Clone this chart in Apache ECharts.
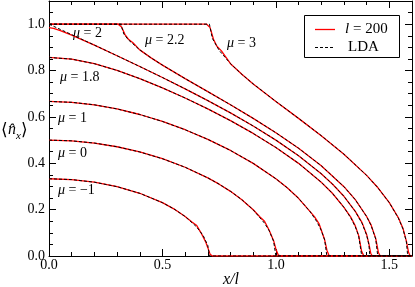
<!DOCTYPE html>
<html><head><meta charset="utf-8">
<script src="https://cdn.jsdelivr.net/npm/echarts@6/dist/echarts.min.js"></script>
<style>html,body{margin:0;padding:0;background:#fff}#c{width:415px;height:287px}</style>
</head><body><div id="c"></div>
<script>
// ---- data (x/l, <n_x>) ----
const muNames = ['−1', '0', '1', '1.8', '2', '2.2', '3'];
const legendNames = ['l = 200', 'LDA'];

const lda_m1 = [[0,0.3333],[0.1,0.3296],[0.2,0.3184],[0.3,0.2991],[0.4,0.2706],[0.5,0.2300],[0.55,0.2035],[0.6,0.1704],[0.65,0.1262],[0.68,0.0875],[0.7,0.0451],[0.7071,0],[1.6,0]];
const lda_0 = [[0,0.5],[0.1,0.4968],[0.2,0.4873],[0.3,0.4713],[0.4,0.4488],[0.5,0.4196],[0.6,0.3828],[0.7,0.3370],[0.75,0.3098],[0.8,0.2789],[0.85,0.2430],[0.9,0.1994],[0.95,0.1416],[0.97,0.1099],[0.99,0.0636],[1.0,0],[1.6,0]];
const lda_1 = [[0,0.6667],[0.1,0.6630],[0.2,0.6522],[0.3,0.6344],[0.4,0.6104],[0.5,0.5804],[0.6,0.5447],[0.7,0.5032],[0.8,0.4553],[0.9,0.3997],[1.0,0.3333],[1.05,0.2942],[1.1,0.2487],[1.15,0.1925],[1.18,0.1490],[1.2,0.1108],[1.215,0.0695],[1.2247,0],[1.6,0]];
const lda_18 = [[0,0.8564],[0.1,0.8493],[0.2,0.8296],[0.3,0.8006],[0.4,0.7652],[0.5,0.7252],[0.6,0.6816],[0.7,0.6344],[0.8,0.5837],[0.9,0.5287],[1.0,0.4681],[1.1,0.3997],[1.2,0.3184],[1.25,0.2695],[1.3,0.2101],[1.33,0.1649],[1.35,0.1262],[1.365,0.0866],[1.3784,0],[1.6,0]];
const lda_2 = [[0,1.0],[0.02,0.991],[0.05,0.9775],[0.1,0.9549],[0.2,0.9097],[0.3,0.8639],[0.4,0.8174],[0.5,0.7699],[0.6,0.7211],[0.7,0.6703],[0.8,0.6172],[0.9,0.5608],[1.0,0.5],[1.1,0.4327],[1.2,0.3550],[1.25,0.3098],[1.3,0.2576],[1.35,0.1925],[1.38,0.1403],[1.4,0.0903],[1.41,0.0492],[1.4142,0],[1.6,0]];
const lda_22 = [[0,1],[0.3162,1],[0.33,0.9575],[0.35,0.9323],[0.4,0.8892],[0.45,0.8546],[0.5,0.8234],[0.6,0.7652],[0.7,0.7088],[0.8,0.6522],[0.9,0.5937],[1.0,0.5319],[1.1,0.4649],[1.2,0.3896],[1.3,0.2991],[1.35,0.2430],[1.4,0.1704],[1.42,0.1311],[1.44,0.0733],[1.4491,0],[1.6,0]];
const lda_3 = [[0,1],[0.7071,1],[0.72,0.9389],[0.75,0.8869],[0.8,0.8296],[0.85,0.7836],[0.9,0.7424],[1.0,0.6667],[1.1,0.5937],[1.2,0.5191],[1.3,0.4392],[1.4,0.3478],[1.45,0.2942],[1.5,0.2300],[1.54,0.1632],[1.56,0.1168],[1.575,0.0628],[1.5811,0],[1.6,0]];

const l200_m1 = [[0,0.3333],[0.1,0.3296],[0.2,0.3184],[0.3,0.2991],[0.4,0.2706],[0.5,0.2300],[0.55,0.2035],[0.6,0.1704],[0.63,0.147],[0.65,0.133],[0.67,0.100],[0.69,0.062],[0.70,0.036],[0.71,0.008],[0.72,0],[1.6,0]];
const l200_0 = [[0,0.5],[0.1,0.4968],[0.2,0.4873],[0.3,0.4713],[0.4,0.4488],[0.5,0.4196],[0.6,0.3828],[0.7,0.3370],[0.75,0.3098],[0.8,0.2789],[0.85,0.2430],[0.9,0.1994],[0.93,0.168],[0.95,0.150],[0.97,0.112],[0.99,0.066],[1.0,0.030],[1.01,0.005],[1.02,0],[1.6,0]];
const l200_1 = [[0,0.6667],[0.1,0.6630],[0.2,0.6522],[0.3,0.6344],[0.4,0.6104],[0.5,0.5804],[0.6,0.5447],[0.7,0.5032],[0.8,0.4553],[0.9,0.3997],[1.0,0.3333],[1.05,0.2942],[1.1,0.2487],[1.15,0.1925],[1.17,0.170],[1.19,0.140],[1.2,0.112],[1.215,0.070],[1.225,0.025],[1.235,0],[1.6,0]];
const l200_18 = [[0,0.8564],[0.1,0.8493],[0.2,0.8296],[0.3,0.8006],[0.4,0.7652],[0.5,0.7252],[0.6,0.6816],[0.7,0.6344],[0.8,0.5837],[0.9,0.5287],[1.0,0.4681],[1.1,0.3997],[1.2,0.3184],[1.25,0.2695],[1.3,0.2101],[1.33,0.1680],[1.35,0.1300],[1.365,0.0880],[1.378,0.020],[1.388,0],[1.6,0]];
const l200_2 = [[0,0.985],[0.02,0.982],[0.05,0.972],[0.1,0.9530],[0.2,0.9097],[0.3,0.8639],[0.4,0.8174],[0.5,0.7699],[0.6,0.7211],[0.7,0.6703],[0.8,0.6172],[0.9,0.5608],[1.0,0.5],[1.1,0.4327],[1.2,0.3550],[1.25,0.3098],[1.3,0.2576],[1.35,0.1925],[1.38,0.1440],[1.4,0.0930],[1.41,0.0520],[1.418,0.012],[1.425,0],[1.6,0]];
const l200_22 = [[0,1],[0.305,1],[0.32,0.988],[0.335,0.955],[0.35,0.935],[0.37,0.920],[0.4,0.8892],[0.45,0.8546],[0.5,0.8234],[0.6,0.7652],[0.7,0.7088],[0.8,0.6522],[0.9,0.5937],[1.0,0.5319],[1.1,0.4649],[1.2,0.3896],[1.3,0.2991],[1.35,0.2430],[1.4,0.1704],[1.42,0.1330],[1.44,0.0760],[1.452,0.015],[1.46,0],[1.6,0]];
const l200_3 = [[0,1],[0.695,1],[0.71,0.985],[0.725,0.935],[0.74,0.905],[0.76,0.885],[0.8,0.8296],[0.85,0.7836],[0.9,0.7424],[1.0,0.6667],[1.1,0.5937],[1.2,0.5191],[1.3,0.4392],[1.4,0.3478],[1.45,0.2942],[1.5,0.2300],[1.54,0.1650],[1.56,0.1200],[1.575,0.0650],[1.585,0.015],[1.592,0],[1.6,0]];

const ldaSets = [lda_m1, lda_0, lda_1, lda_18, lda_2, lda_22, lda_3];
const l200Sets = [l200_m1, l200_0, l200_1, l200_18, l200_2, l200_22, l200_3];

// ---- chart ----
const SERIF = "'Liberation Serif','DejaVu Serif',serif";
const RED = '#ff0000';
const chart = echarts.init(document.getElementById('c'), null, {renderer: 'canvas'});

function xAx(pos, interval, len, labels, line) {
  return {
    type: 'value', position: pos, min: 0, max: 1.6, interval: interval,
    axisLine: {show: line, onZero: false, lineStyle: {color: '#000', width: 1}},
    axisTick: {show: true, inside: true, length: len, lineStyle: {color: '#000', width: 1}},
    axisLabel: {show: labels, showMaxLabel: false, margin: 2, color: '#000', fontSize: 14, fontFamily: SERIF,
      formatter: v => v.toFixed(1)},
    splitLine: {show: false}, minorTick: {show: false}
  };
}
function yAx(pos, interval, len, labels, line) {
  return {
    type: 'value', position: pos, min: 0, max: 1.1, interval: interval,
    axisLine: {show: line, onZero: false, lineStyle: {color: '#000', width: 1}},
    axisTick: {show: true, inside: true, length: len, lineStyle: {color: '#000', width: 1}},
    axisLabel: {show: labels, showMaxLabel: false, margin: 4, color: '#000', fontSize: 14, fontFamily: SERIF,
      formatter: v => v.toFixed(1)},
    splitLine: {show: false}, minorTick: {show: false}
  };
}

const series = [];
l200Sets.forEach(d => series.push({
  name: legendNames[0], type: 'line', data: d, symbol: 'none', showSymbol: false, smooth: false,
  xAxisIndex: 0, yAxisIndex: 0, lineStyle: {color: RED, width: 1.3}, itemStyle: {color: RED},
  z: 2, silent: true
}));
ldaSets.forEach(d => series.push({
  name: legendNames[1], type: 'line', data: d, symbol: 'none', showSymbol: false, smooth: false,
  xAxisIndex: 0, yAxisIndex: 0, lineStyle: {color: '#000', width: 1, type: [3, 2]}, itemStyle: {color: '#000'},
  z: 3, silent: true
}));

const labelPos = [[58,190],[58,153],[58,118],[60,77],[73,33],[145,40],[227,43]];
const graphics = [];
muNames.forEach((m, i) => graphics.push({
  type: 'text', x: labelPos[i][0], y: labelPos[i][1], silent: true,
  style: {text: '{i|μ}{r| = ' + m + '}', verticalAlign: 'middle', align: 'left',
    rich: {i: {fontStyle: 'italic', fontSize: 14, fontFamily: SERIF, fill: '#000'},
           r: {fontSize: 14, fontFamily: SERIF, fill: '#000'}}}
}));
// axis titles
graphics.push({type: 'text', x: 231, y: 280, silent: true,
  style: {text: 'x/l', fontStyle: 'italic', fontSize: 16, fontFamily: SERIF, fill: '#000', align: 'center', verticalAlign: 'middle'}});
graphics.push({type: 'text', x: 1, y: 131, silent: true,
  style: {text: '⟨', fontSize: 17, fontFamily: SERIF, fill: '#000', align: 'left', verticalAlign: 'middle'}});
graphics.push({type: 'text', x: 8, y: 130, silent: true,
  style: {text: 'n̂', fontStyle: 'italic', fontSize: 16, fontFamily: SERIF, fill: '#000', align: 'left', verticalAlign: 'middle'}});
graphics.push({type: 'text', x: 16, y: 136, silent: true,
  style: {text: 'x', fontStyle: 'italic', fontSize: 11, fontFamily: SERIF, fill: '#000', align: 'left', verticalAlign: 'middle'}});
graphics.push({type: 'text', x: 21, y: 131, silent: true,
  style: {text: '⟩', fontSize: 17, fontFamily: SERIF, fill: '#000', align: 'left', verticalAlign: 'middle'}});
// legend box
graphics.push({type: 'rect', shape: {x: 304.5, y: 15.5, width: 95, height: 42}, silent: true, z: 10,
  style: {fill: '#fff', stroke: '#000', lineWidth: 1}});
graphics.push({type: 'line', shape: {x1: 315, y1: 29.5, x2: 335, y2: 29.5}, silent: true, z: 11,
  style: {stroke: RED, lineWidth: 1.3}});
graphics.push({type: 'line', shape: {x1: 315, y1: 47.5, x2: 335, y2: 47.5}, silent: true, z: 11,
  style: {stroke: '#000', lineWidth: 1, lineDash: [3, 2]}});
graphics.push({type: 'text', x: 345, y: 29, silent: true, z: 11,
  style: {text: '{i|l}{r| = 200}', verticalAlign: 'middle', align: 'left',
    rich: {i: {fontStyle: 'italic', fontSize: 15, fontFamily: SERIF, fill: '#000'},
           r: {fontSize: 15, fontFamily: SERIF, fill: '#000'}}}});
graphics.push({type: 'text', x: 348, y: 47, silent: true, z: 11,
  style: {text: legendNames[1], fontSize: 15, fontFamily: SERIF, fill: '#000', align: 'left', verticalAlign: 'middle'}});

chart.setOption({
  animation: false,
  backgroundColor: '#fff',
  grid: {left: 49, right: 3, top: 1, bottom: 31, containLabel: false},
  xAxis: [xAx('bottom', 0.5, 7, true, true), xAx('bottom', 0.1, 4, false, false),
          xAx('top', 0.5, 7, false, true), xAx('top', 0.1, 4, false, false)],
  yAxis: [yAx('left', 0.2, 7, true, true), yAx('left', 0.05, 4, false, false),
          yAx('right', 0.2, 7, false, true), yAx('right', 0.05, 4, false, false)],
  series: series,
  graphic: graphics
});
</script></body></html>
